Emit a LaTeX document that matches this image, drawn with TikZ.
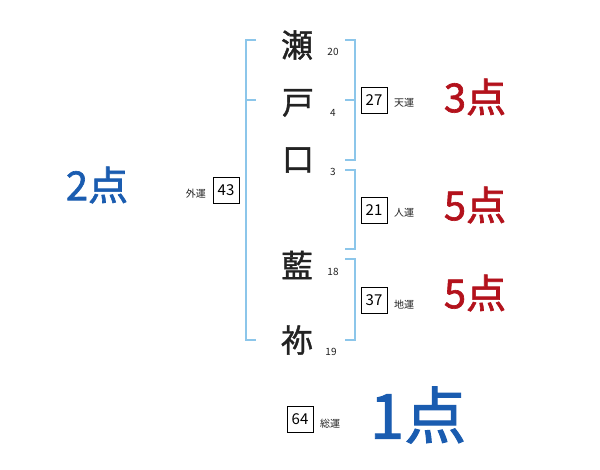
\documentclass[tikz,border=0pt]{standalone}
\usepackage{fontspec}
\newfontfamily\jp{Noto Sans CJK JP}
\newfontfamily\jpk[FakeBold=1.2]{Noto Sans CJK JP}
\newfontfamily\jps[FakeBold=1.6]{Noto Sans CJK JP}
\definecolor{brk}{HTML}{8CC6EA}
\definecolor{ptblue}{HTML}{1A5CB0}
\definecolor{ptred}{HTML}{B3121C}
\definecolor{ink}{HTML}{222222}
\begin{document}
\begin{tikzpicture}[x=1pt,y=-1pt,
  kanji/.style={font=\jpk\fontsize{32}{32}\selectfont, text=ink, inner sep=0pt},
  stroke/.style={font=\jp\fontsize{10}{10}\selectfont, text=ink, inner sep=0pt},
  numbox/.style={draw=black, line width=0.8pt, minimum width=26pt, minimum height=26pt, inner sep=0pt, font=\jp\fontsize{15}{15}\selectfont},
  lbl/.style={font=\jp\fontsize{10}{10}\selectfont, text=ink, inner sep=0pt},
  score/.style={font=\jps\fontsize{40}{40}\selectfont, inner sep=0pt},
  bracket/.style={draw=brk, line width=1.6pt}]
\useasboundingbox (0,0) rectangle (600,470);
\fill[white] (0,0) rectangle (600,470);
% characters
\node[kanji] (c1) at (297,45) {瀬};
\node[kanji] (c2) at (298,103) {戸};
\node[kanji] (c3) at (298,160) {口};
\node[kanji] (c4) at (297,265) {藍};
\node[kanji] (c5) at (297,340) {祢};
\node[stroke] (s1) at (333,52) {20};
\node[stroke] (s2) at (333,113) {4};
\node[stroke] (s3) at (333,172) {3};
\node[stroke] (s4) at (333,272) {18};
\node[stroke] (s5) at (331,352) {19};
% left bracket
\draw[bracket] (256,40) -- (246,40) -- (246,340) -- (256,340);
\draw[bracket] (246,100) -- (256,100);
% right brackets
\draw[bracket] (345,40) -- (355,40) -- (355,160) -- (345,160);
\draw[bracket] (345,100) -- (355,100);
\draw[bracket] (345,170) -- (355,170) -- (355,249) -- (345,249);
\draw[bracket] (345,259) -- (355,259) -- (355,340) -- (345,340);
% boxes
\node[numbox] (b1) at (374,100) {27};
\node[lbl, anchor=west] (l1) at (394,103) {天運};
\node[numbox] (b2) at (374,210) {21};
\node[lbl, anchor=west] (l2) at (394,213) {人運};
\node[numbox] (b3) at (374,300) {37};
\node[lbl, anchor=west] (l3) at (394,305) {地運};
\node[numbox] (b4) at (226,190) {43};
\node[lbl, anchor=east] (l4) at (206,194) {外運};
\node[numbox] (b5) at (300,419) {64};
\node[lbl, anchor=west] (l5) at (320,424) {総運};
% scores
\node[score, text=ptblue] (p1) at (97,185) {2点};
\node[score, text=ptred] (p2) at (475,97) {3点};
\node[score, text=ptred] (p3) at (475,205) {5点};
\node[score, text=ptred] (p4) at (475,293) {5点};
\node[font=\jps\fontsize{62}{62}\selectfont, text=ptblue, inner sep=0pt] (p5) at (418,415) {1点};
\end{tikzpicture}
\end{document}
